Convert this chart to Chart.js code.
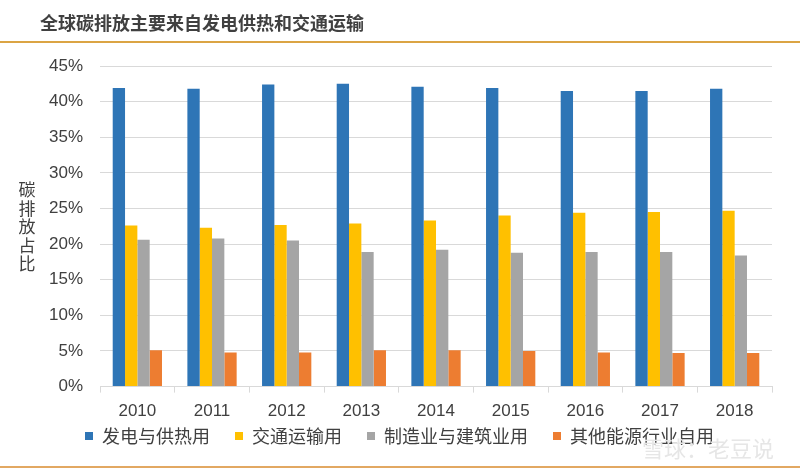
<!DOCTYPE html>
<html>
<head>
  <title>全球碳排放主要来自发电供热和交通运输</title>
  <script src="https://cdn.jsdelivr.net/npm/chart.js"></script>
  <style>
    body {
        margin: 0;
        background: #fff;
        font-family: "Liberation Sans", "Noto Sans CJK SC", sans-serif;
    }
    .page {
        position: relative;
        width: 800px;
        height: 473px;
        overflow: hidden;
    }
    .title {
        position: absolute;
        left: 40px;
        top: 10px;
        font-size: 18px;
        font-weight: bold;
        color: #404040;
        font-family: "Noto Sans CJK SC", sans-serif;
        line-height: 24px;
    }
    .rule {
        position: absolute;
        left: 0;
        width: 800px;
        height: 2px;
        background: #DBA444;
    }
    .watermark {
        position: absolute;
        left: 642px;
        top: 431px;
        font-size: 22px;
        color: #e6e6e6;
        font-family: "Noto Sans CJK SC", sans-serif;
    }
    #chartBox {
        position: absolute;
        left: 0;
        top: 0;
        width: 800px;
        height: 473px;
    }
  </style>
</head>
<body>
  <div class="page">
    <div id="chartBox"><canvas id="emissionChart"></canvas></div>
    <div class="title">全球碳排放主要来自发电供热和交通运输</div>
    <div class="rule" style="top:41px"></div>
    <div class="rule" style="top:466px; background:#E2A862"></div>
    <div class="watermark">雪球：老豆说</div>
  </div>

  <script>
    // 데이터 (단위: %)
    const years = ['2010', '2011', '2012', '2013', '2014', '2015', '2016', '2017', '2018'];
    const powerHeat = [41.9, 41.8, 42.4, 42.5, 42.1, 41.9, 41.5, 41.5, 41.8];
    const transport = [22.6, 22.3, 22.7, 22.9, 23.3, 24.0, 24.4, 24.5, 24.7];
    const industry  = [20.6, 20.8, 20.5, 18.9, 19.2, 18.8, 18.9, 18.9, 18.4];
    const otherEnergy = [5.1, 4.8, 4.8, 5.1, 5.1, 5.0, 4.8, 4.7, 4.7];
    const yTicks = [0, 5, 10, 15, 20, 25, 30, 35, 40, 45];

    const yTitle = '碳排放占比';

    // 세로 축 제목 (글자를 한 줄씩 세로로)
    const verticalTitle = {
        id: 'verticalTitle',
        afterDraw(chart) {
            const ctx = chart.ctx;
            ctx.save();
            ctx.font = '17px "Noto Sans CJK SC"';
            ctx.fillStyle = '#404040';
            ctx.textAlign = 'center';
            ctx.textBaseline = 'middle';
            const chars = yTitle.split('');
            chars.forEach((c, i) => ctx.fillText(c, 27, 190 + i * 18.5));
            ctx.restore();
        }
    };

    // 범례 위치 조정 (왼쪽 정렬 위치를 원본에 맞춤)
    const legendShift = {
        id: 'legendShift',
        afterLayout(chart) {
            const lg = chart.legend;
            if (!lg) return;
            lg.left += 28;
            lg.right += 28;
            lg.top -= 29;
            lg.bottom -= 29;
        }
    };

    const ctx = document.getElementById('emissionChart').getContext('2d');
    new Chart(ctx, {
        type: 'bar',
        data: {
            labels: years,
            datasets: [
                { label: '发电与供热用', data: powerHeat, backgroundColor: '#2E75B6' },
                { label: '交通运输用', data: transport, backgroundColor: '#FFC000' },
                { label: '制造业与建筑业用', data: industry, backgroundColor: '#A5A5A5' },
                { label: '其他能源行业自用', data: otherEnergy, backgroundColor: '#ED7D31' }
            ]
        },
        options: {
            responsive: true,
            maintainAspectRatio: false,
            animation: false,
            layout: {
                padding: { left: 32, right: 28, top: 66, bottom: -11 }
            },
            datasets: {
                bar: { barPercentage: 1, categoryPercentage: 0.66 }
            },
            scales: {
                x: {
                    grid: {
                        offset: true,
                        drawOnChartArea: false,
                        tickLength: 6,
                        color: '#D9D9D9'
                    },
                    border: { color: '#D9D9D9' },
                    ticks: {
                        color: '#404040',
                        padding: 9,
                        font: { size: 17, family: '"Liberation Sans", Arial' }
                    }
                },
                y: {
                    min: 0,
                    max: 45,
                    afterBuildTicks: axis => { axis.ticks = yTicks.map(v => ({ value: v })); },
                    grid: { color: '#D9D9D9', drawTicks: false },
                    border: { display: false },
                    ticks: {
                        color: '#404040',
                        padding: 17,
                        font: { size: 17, family: '"Liberation Sans", Arial' },
                        callback: v => v + '%'
                    }
                }
            },
            plugins: {
                legend: {
                    position: 'bottom',
                    align: 'start',
                    labels: {
                        boxWidth: 8,
                        boxHeight: 8,
                        padding: 25,
                        color: '#404040',
                        font: { size: 18, family: '"Noto Sans CJK SC"' }
                    }
                },
                tooltip: { enabled: false }
            }
        },
        plugins: [verticalTitle, legendShift]
    });
  </script>
</body>
</html>
